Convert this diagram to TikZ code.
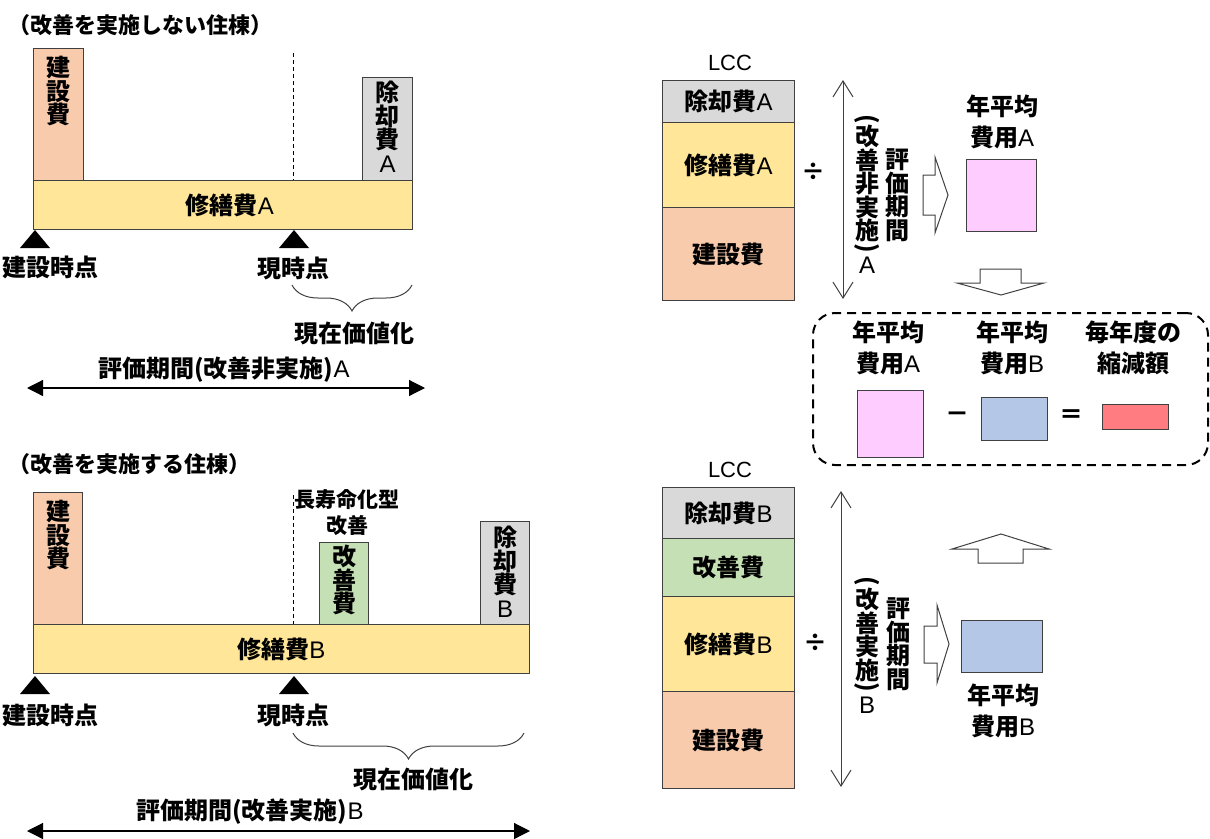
\documentclass[tikz,border=0pt]{standalone}
\usepackage{fontspec}
\setmainfont{Noto Sans CJK JP}
\newfontfamily\latinfont{Liberation Sans}
\usetikzlibrary{arrows.meta,positioning,decorations.pathreplacing}
\definecolor{ConstClr}{HTML}{F8CBAD}
\definecolor{RepairClr}{HTML}{FFE699}
\definecolor{DemolClr}{HTML}{D9D9D9}
\definecolor{ImproveClr}{HTML}{C5E0B4}
\definecolor{AvgAClr}{HTML}{FFCCFF}
\definecolor{AvgBClr}{HTML}{B4C7E7}
\definecolor{SaveClr}{HTML}{FF7C80}
\definecolor{EdgeClr}{HTML}{404040}

\tikzset{
  jp/.style={inner sep=0pt, font=\fontsize{24}{23.5}\selectfont\bfseries},
  jpcol/.style={jp, align=center},
  jptwo/.style={inner sep=0pt, align=center, font=\fontsize{24}{31}\selectfont\bfseries},
  costbox/.style={draw=EdgeClr, line width=1pt, inner sep=0pt, anchor=north west,
    font=\fontsize{24}{23.5}\selectfont\bfseries},
  avgbox/.style={draw=EdgeClr, line width=1pt, inner sep=0pt},
  guide/.style={dashed, dash pattern=on 4pt off 3pt, line width=0.8pt},
  span/.style={{Triangle[length=16pt,width=16pt]}-{Triangle[length=16pt,width=16pt]}, line width=1.2pt},
  vspan/.style={{Straight Barb[length=16pt,width=20pt]}-{Straight Barb[length=16pt,width=20pt]},
    line width=1pt, draw=EdgeClr},
  bracket/.style={decorate, decoration={brace, mirror, amplitude=26pt}, draw=EdgeClr, line width=1pt},
  blockarrow/.style={draw=EdgeClr, fill=white, line width=1pt},
  pics/tick/.style={code={\fill (-15,18) -- (0,0) -- (15,18) -- cycle;}}
}
\newcommand{\lat}[1]{{\latinfont\mdseries #1}}
\newcommand{\parup}{\rotatebox[origin=c]{-90}{(}}
\newcommand{\pardown}{\rotatebox[origin=c]{-90}{)}}

\begin{document}
\begin{tikzpicture}[x=1pt,y=-1pt]
\useasboundingbox (0,0) rectangle (1210,838);

% without improvement
\node[jp, anchor=west, font=\fontsize{22}{23}\selectfont\bfseries] (titleA) at (8,25) {（改善を実施しない住棟）};
\node[costbox, fill=ConstClr, minimum width=50, minimum height=132] (conA) at (33,48) {};
\node[costbox, fill=RepairClr, minimum width=379, minimum height=49] (barA) at (33,180) {};
\node[jp] (barAtxt) at (230,205) {修繕費\lat{A}};
\node[costbox, fill=DemolClr, minimum width=50, minimum height=103] (demA) at (362,77) {};
\node[jpcol, below=8pt of conA.north] (conAtxt) {建\\設\\費};
\node[jpcol, below=4pt of demA.north] (demAtxt) {除\\却\\費\\\lat{A}};
\coordinate (nowAtop) at (293,53);
\coordinate (nowAbar) at (293,180);
\draw[guide] (nowAtop) -- (nowAbar);
\pic at (35,230) {tick};
\pic at (294,230) {tick};
\node[jp] (startA) at (50,267) {建設時点};
\node[jp] (nowA) at (293,268) {現時点};
\coordinate (pvAl) at (292,285);
\coordinate (pvAr) at (412,285);
\draw[bracket] (pvAl) -- (pvAr);
\node[jp] (pvA) at (354,333) {現在価値化};
\node[jp] (periodAtxt) at (224,370) {評価期間(改善非実施)\lat{A}};
\coordinate (spanAl) at (27,388);
\coordinate (spanAr) at (425,388);
\draw[span] (spanAl) -- (spanAr);

% with improvement
\node[jp, anchor=west, font=\fontsize{22}{23}\selectfont\bfseries] (titleB) at (8,464) {（改善を実施する住棟）};
\node[costbox, fill=ConstClr, minimum width=49, minimum height=132] (conB) at (33,492) {};
\node[costbox, fill=RepairClr, minimum width=496, minimum height=49] (barB) at (33,624) {修繕費\lat{B}};
\node[costbox, fill=ImproveClr, minimum width=49, minimum height=82] (impB) at (319,542) {};
\node[costbox, fill=DemolClr, minimum width=49, minimum height=103] (demB) at (480,521) {};
\node[jpcol, below=8pt of conB.north] (conBtxt) {建\\設\\費};
\node[jpcol, below=3pt of impB.north] (impBtxt) {改\\善\\費};
\node[jpcol, below=5pt of demB.north] (demBtxt) {除\\却\\費\\\lat{B}};
\node[jpcol, font=\fontsize{21}{26}\selectfont\bfseries] (impBlbl) at (347,513) {長寿命化型\\改善};
\coordinate (nowBtop) at (293,495);
\coordinate (nowBbar) at (293,624);
\draw[guide] (nowBtop) -- (nowBbar);
\pic at (35,676) {tick};
\pic at (294,676) {tick};
\node[jp] (startB) at (50,715) {建設時点};
\node[jp] (nowB) at (293,715) {現時点};
\coordinate (pvBl) at (293,733);
\coordinate (pvBr) at (524,733);
\draw[bracket] (pvBl) -- (pvBr);
\node[jp] (pvB) at (413,779) {現在価値化};
\node[jp] (periodBtxt) at (250,812) {評価期間(改善実施)\lat{B}};
\coordinate (spanBl) at (27,831);
\coordinate (spanBr) at (530,831);
\draw[span] (spanBl) -- (spanBr);

% LCC A
\node[inner sep=0pt, font=\fontsize{22}{23}\selectfont\latinfont] (lccA) at (730,63) {LCC};
\node[costbox, fill=DemolClr, minimum width=132, minimum height=42] (lccDemA) at (662,80) {除却費\lat{A}};
\node[costbox, fill=RepairClr, minimum width=132, minimum height=85] (lccRepA) at (662,122) {修繕費\lat{A}};
\node[costbox, fill=ConstClr, minimum width=132, minimum height=93] (lccConA) at (662,207) {建設費};
\node[jp] (divA) at (813,172) {÷};
\coordinate (vAtop) at (843,80);
\coordinate (vAbot) at (843,299);
\draw[vspan] (vAtop) -- (vAbot);
\node[jpcol] (condA) at (867,194) {\parup\\[-4pt]改\\善\\非\\実\\施\\[-8pt]\pardown\\[-5pt]\lat{A}};
\node[jpcol] (periodA) at (897,195) {評\\価\\期\\間};
\draw[blockarrow] (923,175) -- (935,175) -- (935,157) -- (948,195) -- (935,233) -- (935,215) -- (923,215) -- cycle;
\node[jptwo] (avgAlbl) at (1002,122) {年平均\\費用\lat{A}};
\node[avgbox, fill=AvgAClr, minimum width=70, minimum height=72] (avgA) at (1001,195) {};
\draw[blockarrow] (980,269) -- (1021,269) -- (1021,283) -- (1044,283) -- (1001,295) -- (957,283) -- (980,283) -- cycle;

% comparison
\node[draw, dashed, dash pattern=on 9pt off 6pt, line width=2pt, rounded corners=22pt,
  minimum width=395, minimum height=152] (cmpBox) at (1010.5,389) {};
\node[jptwo] (cmpAlbl) at (888,348) {年平均\\費用\lat{A}};
\node[jptwo] (cmpBlbl) at (1012,348) {年平均\\費用\lat{B}};
\node[jptwo] (cmpSlbl) at (1133,348) {毎年度の\\縮減額};
\node[avgbox, fill=AvgAClr, minimum width=66, minimum height=67] (cmpA) at (890,423.5) {};
\node[jp] (minus) at (957,417) {－};
\node[avgbox, fill=AvgBClr, minimum width=66, minimum height=43] (cmpB) at (1014,418.5) {};
\node[jp] (equals) at (1071,417) {＝};
\node[avgbox, fill=SaveClr, minimum width=66, minimum height=25] (cmpS) at (1135,416.5) {};

% LCC B
\node[inner sep=0pt, font=\fontsize{22}{23}\selectfont\latinfont] (lccB) at (730,470) {LCC};
\node[costbox, fill=DemolClr, minimum width=132, minimum height=51] (lccDemB) at (662,487) {除却費\lat{B}};
\node[costbox, fill=ImproveClr, minimum width=132, minimum height=58] (lccImpB) at (662,538) {改善費};
\node[costbox, fill=RepairClr, minimum width=132, minimum height=95] (lccRepB) at (662,596) {修繕費\lat{B}};
\node[costbox, fill=ConstClr, minimum width=132, minimum height=97] (lccConB) at (662,691) {建設費};
\node[jp] (divB) at (815,643) {÷};
\coordinate (vBtop) at (841,491);
\coordinate (vBbot) at (841,787);
\draw[vspan] (vBtop) -- (vBbot);
\node[jpcol] (condB) at (867,645) {\parup\\[-4pt]改\\善\\実\\施\\[-8pt]\pardown\\[-5pt]\lat{B}};
\node[jpcol] (periodB) at (898,644) {評\\価\\期\\間};
\draw[blockarrow] (924,626) -- (937,626) -- (937,605) -- (949,644) -- (937,683) -- (937,663) -- (924,663) -- cycle;
\node[avgbox, fill=AvgBClr, minimum width=81, minimum height=52] (avgB) at (1001.5,646) {};
\node[jptwo] (avgBlbl) at (1003,711) {年平均\\費用\lat{B}};
\draw[blockarrow] (978,563) -- (978,549) -- (952,549) -- (1001,534) -- (1049,549) -- (1023,549) -- (1023,563) -- cycle;

\end{tikzpicture}
\end{document}
